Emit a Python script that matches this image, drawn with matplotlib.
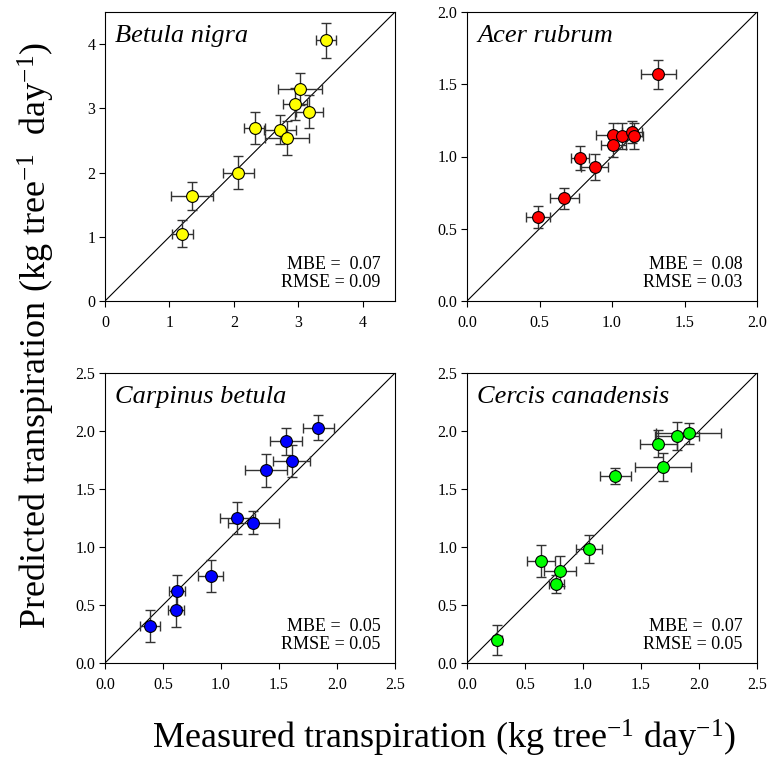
import numpy as np
import matplotlib
matplotlib.use('Agg')
import matplotlib.pyplot as plt

plt.rcParams['font.family'] = ['Liberation Serif', 'DejaVu Serif']
plt.rcParams['mathtext.fontset'] = 'custom'
plt.rcParams['mathtext.rm'] = 'Liberation Serif'
plt.rcParams['mathtext.it'] = 'Liberation Serif:italic'

# --- Betula nigra ---
bn_x = [1.20, 1.35, 2.07, 2.32, 2.71, 2.83, 2.95, 3.03, 3.17, 3.43]
bn_y = [1.05, 1.64, 2.00, 2.69, 2.67, 2.54, 3.07, 3.30, 2.95, 4.06]
bn_xerr = [0.16, 0.32, 0.24, 0.17, 0.25, 0.34, 0.19, 0.34, 0.21, 0.15]
bn_yerr = [0.21, 0.22, 0.26, 0.25, 0.23, 0.26, 0.25, 0.25, 0.26, 0.27]

# --- Acer rubrum ---
ar_x = [0.49, 0.67, 0.78, 0.88, 1.01, 1.01, 1.07, 1.14, 1.15, 1.32]
ar_y = [0.58, 0.71, 0.99, 0.93, 1.15, 1.08, 1.14, 1.17, 1.14, 1.57]
ar_xerr = [0.085, 0.10, 0.06, 0.095, 0.12, 0.085, 0.08, 0.07, 0.067, 0.12]
ar_yerr = [0.076, 0.075, 0.08, 0.09, 0.085, 0.08, 0.09, 0.075, 0.09, 0.10]

# --- Carpinus betula ---
cb_x = [0.39, 0.61, 0.62, 0.91, 1.14, 1.28, 1.39, 1.56, 1.61, 1.84]
cb_y = [0.32, 0.46, 0.62, 0.75, 1.25, 1.21, 1.66, 1.91, 1.74, 2.03]
cb_xerr = [0.086, 0.07, 0.07, 0.11, 0.15, 0.22, 0.18, 0.14, 0.16, 0.13]
cb_yerr = [0.14, 0.15, 0.14, 0.14, 0.14, 0.10, 0.14, 0.115, 0.14, 0.11]

# --- Cercis canadensis ---
cc_x = [0.26, 0.64, 0.77, 0.80, 1.05, 1.28, 1.65, 1.69, 1.81, 1.91]
cc_y = [0.20, 0.88, 0.68, 0.79, 0.98, 1.61, 1.89, 1.69, 1.96, 1.98]
cc_xerr = [0.04, 0.12, 0.065, 0.14, 0.11, 0.13, 0.16, 0.24, 0.19, 0.28]
cc_yerr = [0.13, 0.14, 0.075, 0.13, 0.12, 0.07, 0.115, 0.12, 0.12, 0.09]

panels = [
    ('Betula nigra', bn_x, bn_y, bn_xerr, bn_yerr, 'yellow', 4.5, [0, 1, 2, 3, 4], '0.07', '0.09'),
    ('Acer rubrum', ar_x, ar_y, ar_xerr, ar_yerr, 'red', 2.0, [0, 0.5, 1.0, 1.5, 2.0], '0.08', '0.03'),
    ('Carpinus betula', cb_x, cb_y, cb_xerr, cb_yerr, 'blue', 2.5, [0, 0.5, 1.0, 1.5, 2.0, 2.5], '0.05', '0.05'),
    ('Cercis canadensis', cc_x, cc_y, cc_xerr, cc_yerr, 'lime', 2.5, [0, 0.5, 1.0, 1.5, 2.0, 2.5], '0.07', '0.05'),
]

W, H = 774, 762
fig = plt.figure(figsize=(W / 100, H / 100), dpi=100)

# axes boxes in pixels: left, top, right, bottom
boxes = [(105, 12, 395, 301), (467, 12, 757, 301),
         (105, 373, 395, 663), (467, 373, 757, 663)]

for (name, x, y, xe, ye, col, lim, ticks, mbe, rmse), (l, t, r, b) in zip(panels, boxes):
    ax = fig.add_axes([l / W, 1 - b / H, (r - l) / W, (b - t) / H])
    ax.plot([0, lim], [0, lim], color='black', lw=0.8, zorder=1)
    ax.errorbar(x, y, xerr=xe, yerr=ye, fmt='none', ecolor='#333333',
                elinewidth=1.0, capsize=3.5, capthick=1.0, zorder=2)
    ax.plot(x, y, 'o', ms=8.5, mfc=col, mec='black', mew=0.8, zorder=3)
    ax.set_xlim(0, lim)
    ax.set_ylim(0, lim)
    ax.set_xticks(ticks)
    ax.set_yticks(ticks)
    if lim == 4.5:
        labels = [str(int(v)) for v in ticks]
    else:
        labels = ['%.1f' % v for v in ticks]
    ax.set_xticklabels(labels)
    ax.set_yticklabels(labels)
    ax.tick_params(direction='out', length=4, width=0.8, labelsize=11.5, pad=3)
    ax.tick_params(axis='x', pad=6)
    for s in ax.spines.values():
        s.set_linewidth(0.8)
    ax.text(0.035, 0.955, name, transform=ax.transAxes, fontsize=19,
            style='italic', va='top', ha='left')
    ax.text(0.95, 0.035, 'MBE =  %s\nRMSE = %s' % (mbe, rmse), transform=ax.transAxes,
            fontsize=13, va='bottom', ha='right', linespacing=1.05)

fig.text(36 / W, 1 - 335 / H, 'Predicted transpiration (kg tree$^{\\mathregular{-1}}$  day$^{\\mathregular{-1}}$)',
         rotation=90, fontsize=26, ha='center', va='center')
fig.text(444 / W, 1 - 738 / H, 'Measured transpiration (kg tree$^{\\mathregular{-1}}$ day$^{\\mathregular{-1}}$)',
         fontsize=26, ha='center', va='center')

fig.savefig('out.png', dpi=100)
